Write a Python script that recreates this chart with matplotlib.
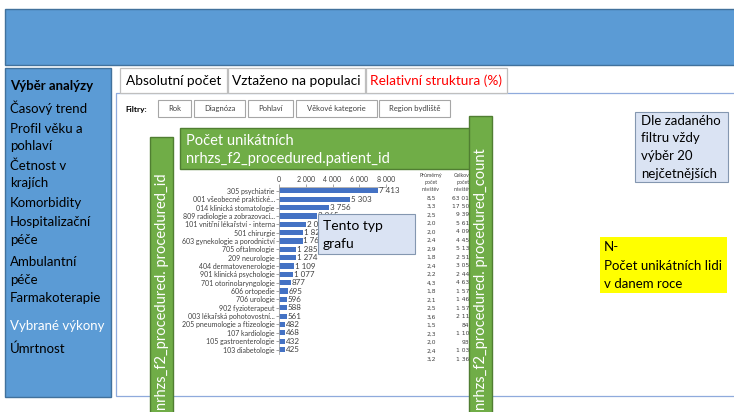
import matplotlib.pyplot as plt
from matplotlib.patches import Rectangle

plt.rcParams['font.family'] = ['Lato', 'DejaVu Sans']

# data of the mock-up
odbornosti = ['305 psychiatrie', '001 všeobecné praktické...', '014 klinická stomatologie',
              '809 radiologie a zobrazovací...', '101 vnitřní lékařství - interna', '501 chirurgie',
              '603 gynekologie a porodnictví', '705 oftalmologie', '209 neurologie',
              '404 dermatovenerologie', '901 klinická psychologie', '701 otorinolaryngologie',
              '606 ortopedie', '706 urologie', '902 fyzioterapeut', '003 lékařská pohotovostní...',
              '205 pneumologie a ftizeologie', '107 kardiologie', '105 gastroenterologie',
              '103 diabetologie']
pacienti = [7413, 5303, 3756, 2865, 2016, 1823, 1760, 1285, 1274, 1109,
            1077, 877, 695, 596, 588, 561, 482, 468, 432, 425]
prumer_navstev = ['8,5', '3,3', '2,5', '2,0', '2,0', '2,4', '2,9', '1,8', '2,4', '2,2',
                  '4,3', '1,8', '2,1', '2,5', '3,6', '1,5', '2,3', '2,0', '2,4', '3,2']
celkem_navstev = ['63 015', '17 502', '9 390', '5 612', '4 093', '4 451', '5 135', '2 513', '3 052', '2 446',
                  '4 631', '1 578', '1 468', '1 573', '2 115', '842', '1 102', '936', '1 035', '1 366']
menu = [('Časový trend', 108), ('Profil věku a', 129), ('pohlaví', 146), ('Četnost v', 166),
        ('krajích', 183), ('Komorbidity', 203), ('Hospitalizační', 222), ('péče', 240),
        ('Ambulantní', 262), ('péče', 280), ('Farmakoterapie', 298), ('Úmrtnost', 349)]
zalozky = ['Absolutní počet', 'Vztaženo na populaci', 'Relativní struktura (%)']
filtry = ['Rok', 'Diagnóza', 'Pohlaví', 'Věkové kategorie', 'Region bydliště']

W, H = 734, 412
BLUE = '#5B9BD5'
GREEN = '#70AD47'

fig = plt.figure(figsize=(W / 100, H / 100), dpi=100)
ax = fig.add_axes([0, 0, 1, 1])
ax.set_xlim(0, W)
ax.set_ylim(H, 0)
ax.axis('off')


def box(a, x0, y0, x1, y1, fc, ec, lw=1.0, z=1):
    a.add_patch(Rectangle((x0, y0), x1 - x0, y1 - y0, facecolor=fc,
                          edgecolor=ec, linewidth=lw, zorder=z))


# header banner and side menu
box(ax, 5, 9, 740, 65, BLUE, '#41719C')
box(ax, 5, 68, 111, 397, BLUE, '#41719C')
ax.text(10, 86, 'Výběr analýzy', fontsize=9.5, fontweight='bold', va='center', color='black')
for t, y in menu:
    ax.text(10, y, t, fontsize=9.5, va='center', color='black')
ax.text(10, 326, 'Vybrané výkony', fontsize=9.5, va='center', color='white')

# main panel with tabs
box(ax, 116, 93, 740, 396, 'none', '#8FAADC', lw=0.9)
tab_x = [(120, 227), (228, 365), (366, 507)]
for (x0, x1), t in zip(tab_x, zalozky):
    box(ax, x0, 68, x1, 93, 'white', '#BFBFBF', lw=0.9)
    ax.text((x0 + x1) / 2, 80.5, t, fontsize=9.8, ha='center', va='center',
            color='#FF0000' if t.startswith('Relativ') else 'black')

# filters
ax.text(125, 109, 'Filtry:', fontsize=6, fontweight='bold', va='center')
filtr_x = [(158, 191), (194, 245), (248, 293), (296, 377), (379, 450)]
for (x0, x1), t in zip(filtr_x, filtry):
    box(ax, x0, 100, x1, 117, 'white', '#A6A6A6', lw=0.8)
    ax.text((x0 + x1) / 2, 108.5, t, fontsize=5.5, ha='center', va='center', color='#404040')

# green labels
box(ax, 180, 128, 470, 169, GREEN, '#507E32', z=2)
ax.text(186, 141, 'Počet unikátních', fontsize=10.5, color='white', va='center', zorder=3)
ax.text(186, 159, 'nrhzs_f2_procedured.patient_id', fontsize=10.5, color='white', va='center', zorder=3)
box(ax, 150, 137, 173, 420, GREEN, '#507E32', z=2)
ax.text(162, 410, 'nrhzs_f2_procedured. procedured_id', fontsize=10.5, color='white',
        rotation=90, ha='center', va='bottom', zorder=3)
box(ax, 469, 116, 492, 420, GREEN, '#507E32', z=4)
ax.text(481, 410, 'nrhzs_f2_procedured. procedured_count', fontsize=10.5, color='white',
        rotation=90, ha='center', va='bottom', zorder=5)

# small table next to the chart
ax.text(431, 182, 'Průměrný\npočet\nnávštěv', fontsize=3.8, ha='center', va='center',
        color='#404040', linespacing=1.5)
ax.text(463, 182, 'Celkový\npočet\nnávštěv', fontsize=3.8, ha='center', va='center',
        color='#404040', linespacing=1.5)
for i, (p, c) in enumerate(zip(prumer_navstev, celkem_navstev)):
    y = 198 + i * 8.49
    ax.text(431, y, p, fontsize=4.3, ha='center', va='center', color='#404040',
            family=['DejaVu Sans'])
    ax.text(473, y, c, fontsize=4.3, ha='right', va='center', color='#404040', zorder=3,
            family=['DejaVu Sans'])

# note boxes
box(ax, 635, 112, 728, 182, '#DAE3F3', '#8497B0', lw=0.8)
for i, t in enumerate(['Dle zadaného', 'filtru vždy', 'výběr 20', 'nejčetnějších']):
    ax.text(641, 121 + i * 17.5, t, fontsize=9.5, va='center')
box(ax, 600, 237, 727, 293, '#FFFF00', 'none')
for i, t in enumerate(['N-', 'Počet unikátních lidi', 'v danem roce']):
    ax.text(604, 247 + i * 18.5, t, fontsize=9.5, va='center')

# the bar chart itself
bx = fig.add_axes([279 / W, 1 - 353.7 / H, 107 / W, 167 / H])
bx.set_facecolor('none')
pos = list(range(len(pacienti)))
bx.barh(pos, pacienti, height=0.62, color='#4472C4')
bx.set_xlim(0, 8000)
bx.set_ylim(len(pacienti) - 0.5, -0.5)
bx.xaxis.tick_top()
bx.set_xticks([0, 2000, 4000, 6000, 8000])
bx.set_xticklabels(['0', '2 000', '4 000', '6 000', '8 000'], fontsize=5, color='#404040')
bx.set_yticks(pos)
bx.set_yticklabels(odbornosti, fontsize=5, color='#404040')
bx.tick_params(axis='x', length=2, width=0.5, pad=1, colors='#808080', labelcolor='#404040')
bx.tick_params(axis='y', length=2, width=0.5, pad=1, colors='#808080', labelcolor='#404040')
for s in ['right', 'bottom']:
    bx.spines[s].set_visible(False)
for s in ['top', 'left']:
    bx.spines[s].set_color('#A6A6A6')
    bx.spines[s].set_linewidth(0.6)
for i, v in enumerate(pacienti):
    bx.text(v + 60, i, f'{v:,}'.replace(',', ' '), fontsize=5.8, va='center', color='#404040')

# overlay for the note on top of the chart
top = fig.add_axes([0, 0, 1, 1], facecolor='none')
top.set_xlim(0, W)
top.set_ylim(H, 0)
top.axis('off')
box(top, 318, 214, 415, 254, '#DAE3F3', '#8497B0', lw=0.8)
top.text(323, 226, 'Tento typ', fontsize=10, va='center')
top.text(323, 244, 'grafu', fontsize=10, va='center')

fig.savefig('out.png', dpi=100)
